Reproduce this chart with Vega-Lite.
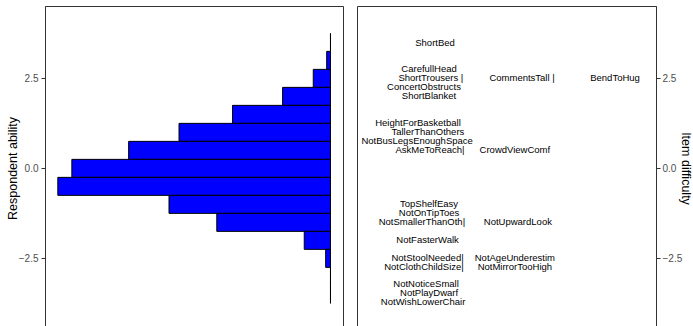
{
  "$schema": "https://vega.github.io/schema/vega-lite/v6.json",
  "padding": {"left": 5, "top": 5, "right": 0, "bottom": 0},
  "background": "white",
  "config": {
    "view": {"stroke": "#333333", "strokeWidth": 1},
    "font": "Liberation Sans",
    "axis": {
      "grid": false,
      "domain": true,
      "domainColor": "#333333",
      "domainWidth": 1,
      "tickColor": "#333333",
      "tickSize": 4,
      "labelColor": "#4D4D4D",
      "labelFontSize": 10,
      "labelFont": "Liberation Sans",
      "titleFont": "Liberation Sans",
      "titleFontSize": 12.5,
      "titleFontWeight": "normal",
      "titleColor": "#000000"
    }
  },
  "datasets": {
    "ability": [
      {"bin_start": 3.24, "bin_end": 3.74, "count": 0},
      {"bin_start": 2.74, "bin_end": 3.24, "count": 3.8},
      {"bin_start": 2.24, "bin_end": 2.74, "count": 17.2},
      {"bin_start": 1.74, "bin_end": 2.24, "count": 47.8},
      {"bin_start": 1.24, "bin_end": 1.74, "count": 97.8},
      {"bin_start": 0.74, "bin_end": 1.24, "count": 151.2},
      {"bin_start": 0.24, "bin_end": 0.74, "count": 201.5},
      {"bin_start": -0.26, "bin_end": 0.24, "count": 258.2},
      {"bin_start": -0.76, "bin_end": -0.26, "count": 272.2},
      {"bin_start": -1.26, "bin_end": -0.76, "count": 161.2},
      {"bin_start": -1.76, "bin_end": -1.26, "count": 113.5},
      {"bin_start": -2.26, "bin_end": -1.76, "count": 26.2},
      {"bin_start": -2.76, "bin_end": -2.26, "count": 4.8},
      {"bin_start": -3.26, "bin_end": -2.76, "count": 0},
      {"bin_start": -3.76, "bin_end": -3.26, "count": 0}
    ],
    "items": [
      {"label": "ShortBed", "col": 2.61, "difficulty": 3.48},
      {"label": "CarefullHead", "col": 2.41, "difficulty": 2.74},
      {"label": "ShortTrousers |", "col": 2.47, "difficulty": 2.49},
      {"label": "ConcertObstructs", "col": 2.24, "difficulty": 2.24},
      {"label": "ShortBlanket", "col": 2.41, "difficulty": 1.99},
      {"label": "CommentsTall |", "col": 5.52, "difficulty": 2.49},
      {"label": "BendToHug", "col": 8.63, "difficulty": 2.49},
      {"label": "HeightForBasketball", "col": 2.04, "difficulty": 1.24},
      {"label": "TallerThanOthers", "col": 2.37, "difficulty": 1.0},
      {"label": "NotBusLegsEnoughSpace", "col": 2.01, "difficulty": 0.75},
      {"label": "AskMeToReach|", "col": 2.44, "difficulty": 0.5},
      {"label": "CrowdViewComf", "col": 5.28, "difficulty": 0.5},
      {"label": "TopShelfEasy", "col": 2.41, "difficulty": -0.99},
      {"label": "NotOnTipToes", "col": 2.41, "difficulty": -1.24},
      {"label": "NotSmallerThanOth|", "col": 2.17, "difficulty": -1.49},
      {"label": "NotUpwardLook", "col": 5.38, "difficulty": -1.49},
      {"label": "NotFasterWalk", "col": 2.36, "difficulty": -2.0},
      {"label": "NotStoolNeeded|", "col": 2.36, "difficulty": -2.49},
      {"label": "NotClothChildSize|", "col": 2.24, "difficulty": -2.74},
      {"label": "NotAgeUnderestim", "col": 5.28, "difficulty": -2.49},
      {"label": "NotMirrorTooHigh", "col": 5.28, "difficulty": -2.74},
      {"label": "NotNoticeSmall", "col": 2.31, "difficulty": -3.23},
      {"label": "NotPlayDwarf", "col": 2.41, "difficulty": -3.48},
      {"label": "NotWishLowerChair", "col": 2.21, "difficulty": -3.72}
    ]
  },
  "hconcat": [
    {
      "width": 298,
      "height": 324,
      "data": {"name": "ability"},
      "mark": {"type": "bar", "fill": "#0000FF", "stroke": "#000000", "strokeWidth": 1},
      "encoding": {
        "y": {
          "field": "bin_start",
          "type": "quantitative",
          "scale": {"domain": [-4.5, 4.5], "nice": false, "zero": false},
          "axis": {"title": "Respondent ability", "values": [-2.5, 0, 2.5], "format": ".1f", "labelPadding": 3, "titlePadding": -1}
        },
        "y2": {"field": "bin_end"},
        "x": {
          "field": "count",
          "type": "quantitative",
          "scale": {"domain": [-12.5, 285], "reverse": true, "nice": false, "zero": false},
          "axis": null
        },
        "x2": {"datum": 0}
      }
    },
    {
      "width": 299,
      "height": 324,
      "data": {"name": "items"},
      "mark": {"type": "text", "fontSize": 9.5, "font": "Liberation Sans", "color": "#000000", "align": "center", "baseline": "middle"},
      "encoding": {
        "x": {
          "field": "col",
          "type": "quantitative",
          "scale": {"domain": [0, 10], "nice": false, "zero": false},
          "axis": null
        },
        "y": {
          "field": "difficulty",
          "type": "quantitative",
          "scale": {"domain": [-4.5, 4.5], "nice": false, "zero": false},
          "axis": {"orient": "right", "title": "Item difficulty", "values": [-2.5, 0, 2.5], "format": ".1f", "labelPadding": 2, "titlePadding": -3}
        },
        "text": {"field": "label"}
      }
    }
  ],
  "spacing": 12
}
